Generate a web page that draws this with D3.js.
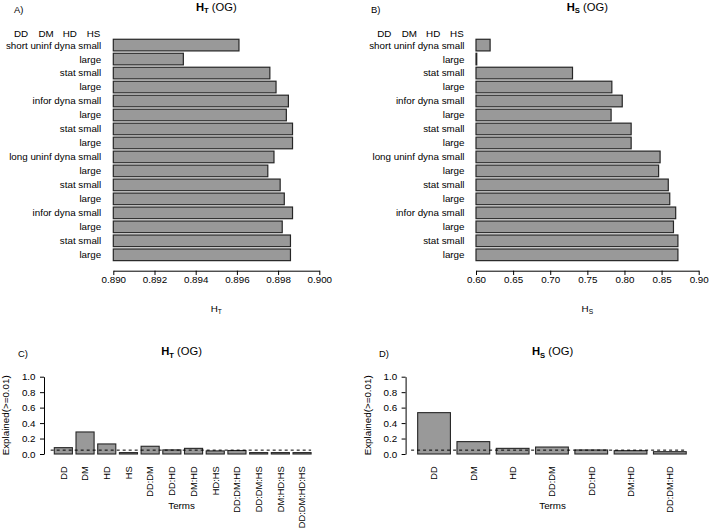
<!DOCTYPE html>
<html>
<head>
<meta charset="utf-8">
<script src="https://cdn.jsdelivr.net/npm/d3@7"></script>
<style>
  html, body { margin: 0; padding: 0; background: #fff; }
  svg { display: block; }
  text { font-family: "Liberation Sans", Arial, Helvetica, sans-serif; fill: #000; }
</style>
</head>
<body>
<svg id="chart" width="709" height="530"></svg>
<script>
// ---------------- DATA ----------------
const rowLabels = [
  "short uninf dyna small", "large", "stat small", "large",
  "infor dyna small", "large", "stat small", "large",
  "long uninf dyna small", "large", "stat small", "large",
  "infor dyna small", "large", "stat small", "large"
];
const headerWords = ["DD", "DM", "HD", "HS"];
const htValues = [0.8961, 0.8934, 0.8976, 0.8979, 0.8985, 0.8984, 0.8987, 0.8987,
                  0.8978, 0.8975, 0.8981, 0.8983, 0.8987, 0.8982, 0.8986, 0.8986];
const hsValues = [0.619, 0.601, 0.730, 0.783, 0.797, 0.782, 0.809, 0.809,
                  0.848, 0.846, 0.859, 0.861, 0.869, 0.866, 0.872, 0.872];
const htTicks = [0.890, 0.892, 0.894, 0.896, 0.898, 0.900];
const hsTicks = [0.60, 0.65, 0.70, 0.75, 0.80, 0.85, 0.90];

const termsT = ["DD", "DM", "HD", "HS", "DD:DM", "DD:HD", "DM:HD", "HD:HS",
                "DD:DM:HD", "DD:DM:HS", "DM:HD:HS", "DD:DM:HD:HS"];
const explainedT = [0.082, 0.285, 0.13, 0.018, 0.10, 0.053, 0.073, 0.04, 0.045, 0.018, 0.018, 0.018];
const termsS = ["DD", "DM", "HD", "DD:DM", "DD:HD", "DM:HD", "DD:DM:HD"];
const explainedS = [0.535, 0.16, 0.073, 0.09, 0.052, 0.043, 0.03];
const explTicks = [0, 0.2, 0.4, 0.6, 0.8, 1.0];
const threshold = 0.05;

// ---------------- STYLE ----------------
const FS = 9.8;
const BAR_FILL = "#999999";
const BAR_STROKE = "#262626";

const svg = d3.select("#chart");

function titleText(g, x, y, sub, fontSize, bold, rest) {
  const t = g.append("text").attr("x", x).attr("y", y)
    .attr("text-anchor", "middle").attr("font-size", fontSize);
  t.append("tspan").attr("font-weight", bold ? "bold" : "normal").text("H");
  t.append("tspan").attr("font-weight", bold ? "bold" : "normal")
    .attr("font-size", fontSize * 0.68).attr("dy", fontSize * 0.25).text(sub);
  if (rest) t.append("tspan").attr("dy", -fontSize * 0.25).text(rest);
  return t;
}

// ---------------- HORIZONTAL PANELS (A, B) ----------------
function hPanel(opts) {
  const g = svg.append("g");
  const x = d3.scaleLinear().domain(opts.domain).range(opts.xRange);
  const y = d3.scaleBand().domain(d3.range(rowLabels.length))
    .range([38.1, 261.8]).paddingInner(0.1667).paddingOuter(0.0833);

  g.selectAll("rect.bar").data(opts.values).join("rect")
    .attr("class", "bar")
    .attr("x", x(opts.domain[0]))
    .attr("y", (d, i) => y(i))
    .attr("width", d => Math.max(0.5, x(d) - x(opts.domain[0])))
    .attr("height", y.bandwidth())
    .attr("fill", BAR_FILL).attr("stroke", BAR_STROKE).attr("stroke-width", 1.2);

  g.selectAll("text.row").data(rowLabels).join("text")
    .attr("class", "row")
    .attr("x", opts.labelRight)
    .attr("y", (d, i) => y(i) + y.bandwidth() / 2)
    .attr("dy", "0.35em")
    .attr("text-anchor", "end")
    .attr("font-size", FS)
    .text(d => d);

  const headerOffsets = [-87.3, -62.8, -38.4, -14.4];
  g.selectAll("text.hdr").data(headerWords).join("text")
    .attr("class", "hdr")
    .attr("x", (d, i) => opts.labelRight + headerOffsets[i])
    .attr("y", 37.2)
    .attr("font-size", FS)
    .text(d => d);

  const axis = d3.axisBottom(x).tickValues(opts.ticks)
    .tickFormat(d3.format(opts.fmt)).tickSize(4.3).tickSizeOuter(0).tickPadding(1);
  const ax = g.append("g").attr("transform", "translate(0,270.7)").call(axis);
  ax.selectAll("text").attr("font-size", FS).attr("font-family", "Liberation Sans, Arial, sans-serif");
  ax.selectAll("line,path").attr("stroke", "#000");

  const cx = (opts.xRange[0] + opts.xRange[1]) / 2;
  titleText(g, cx, 10.6, opts.sub, 11.2, true, " (OG)");
  titleText(g, cx, 311.5, opts.sub, 9.8, false, null);
  g.append("text").attr("x", opts.panelX).attr("y", 12.6)
    .attr("font-size", 9.4).text(opts.panel);
}

hPanel({ values: htValues, domain: [0.890, 0.900], xRange: [113.3, 319.3],
         ticks: htTicks, fmt: ".3f", labelRight: 101.2, sub: "T", panel: "A)", panelX: 14 });
hPanel({ values: hsValues, domain: [0.60, 0.90], xRange: [476, 698.7],
         ticks: hsTicks, fmt: ".2f", labelRight: 464.5, sub: "S", panel: "B)", panelX: 371 });

// ---------------- VERTICAL PANELS (C, D) ----------------
function vPanel(opts) {
  const g = svg.append("g");
  const y = d3.scaleLinear().domain([0, 1]).range([454, 376.7]);
  const x = d3.scaleBand().domain(opts.terms).range(opts.bandRange)
    .paddingInner(0.1667).paddingOuter(0.0833);

  g.selectAll("rect.bar").data(opts.values).join("rect")
    .attr("class", "bar")
    .attr("x", (d, i) => x(opts.terms[i]))
    .attr("y", d => y(d))
    .attr("width", x.bandwidth())
    .attr("height", d => y(0) - y(d))
    .attr("fill", BAR_FILL).attr("stroke", BAR_STROKE).attr("stroke-width", 1.1);

  // threshold line from bar-unit 0 to the end of the last bar
  const unit = x.bandwidth();
  const x0 = x(opts.terms[0]) - 0.2 * unit;
  const x1 = x(opts.terms[opts.terms.length - 1]) + unit;
  g.append("line")
    .attr("x1", x0).attr("x2", x1)
    .attr("y1", y(threshold)).attr("y2", y(threshold))
    .attr("stroke", "#000").attr("stroke-width", 1)
    .attr("stroke-dasharray", "3,3");

  const axis = d3.axisLeft(y).tickValues(explTicks).tickFormat(d3.format(".1f"))
    .tickSize(4).tickSizeOuter(0).tickPadding(4.5);
  const ax = g.append("g").attr("transform", `translate(${opts.axisX},0)`).call(axis);
  ax.selectAll("text").attr("font-size", FS).attr("font-family", "Liberation Sans, Arial, sans-serif");
  ax.selectAll("line,path").attr("stroke", "#000");

  g.append("text")
    .attr("transform", `translate(${opts.ylabX},415.3) rotate(-90)`)
    .attr("text-anchor", "middle").attr("dy", "0.35em")
    .attr("font-size", FS)
    .text("Explained(>=0.01)");

  g.selectAll("text.term").data(opts.terms).join("text")
    .attr("class", "term")
    .attr("transform", d => `translate(${x(d) + unit / 2},466.3) rotate(-90)`)
    .attr("text-anchor", "end").attr("dy", "0.35em")
    .attr("font-size", 9.3)
    .text(d => d);

  g.append("text").attr("x", opts.center).attr("y", 509.3)
    .attr("text-anchor", "middle").attr("font-size", FS).text("Terms");

  titleText(g, opts.center, 355.4, opts.sub, 11.2, true, " (OG)");
  g.append("text").attr("x", opts.panelX).attr("y", 356.6)
    .attr("font-size", 9.4).text(opts.panel);
}

vPanel({ terms: termsT, values: explainedT, bandRange: [52.5, 312.9], axisX: 44,
         ylabX: 5.5, center: 181.6, sub: "T", panel: "C)", panelX: 18 });
vPanel({ terms: termsS, values: explainedS, bandRange: [414.4, 689.5], axisX: 405.6,
         ylabX: 368, center: 552.6, sub: "S", panel: "D)", panelX: 379 });
</script>
</body>
</html>
